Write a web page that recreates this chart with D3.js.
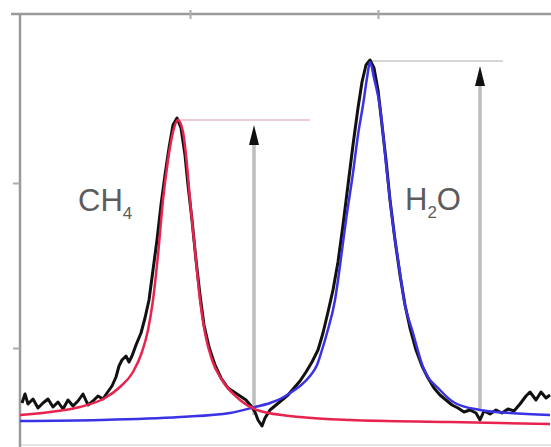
<!DOCTYPE html>
<html>
<head>
<meta charset="utf-8">
<script src="https://cdn.jsdelivr.net/npm/d3@7"></script>
<style>
  body { margin: 0; background: #fff; }
  svg { display: block; }
</style>
</head>
<body>
<svg id="chart"></svg>
<script>
const width = 551;
const height = 447;

const measured = [
  [2,42],[5,51],[8,41],[13,46],[18,37],[23,42],[28,46],[33,38],[38,43],[43,36],[48,45],[53,39],
  [58,44],[63,51],[68,40],[73,44],[78,49],[83,46],[87,52],[92,59],[96,68],[99,79],[102,85],[106,89],
  [109,83],[112,89],[116,100],[121,112],[125,127],[129,145],[133,175],[137,205],[141,240],[145,270],
  [149,297],[153,320],[157,327],[161,317],[165,290],[168,260],[172,225],[176,185],[180,150],[184,120],
  [189,98],[195,80],[201,67],[208,57],[214,53],[220,49],[226,45],[231,39],[235,33],[238,25],[242,19],
  [245,27],[250,35],[256,40],[262,45],[268,50],[274,57],[280,64],[286,73],[292,83],[298,95],[303,112],
  [308,133],[313,155],[318,183],[323,220],[328,260],[333,300],[338,337],[342,363],[346,380],[350,385],
  [354,377],[358,355],[362,320],[366,285],[370,245],[375,205],[380,170],[385,140],[390,117],[396,95],
  [402,79],[408,67],[414,57],[420,50],[426,45],[432,40],[438,37],[444,33],[450,35],[456,32],[460,25],
  [464,34],[470,31],[476,35],[482,32],[488,36],[494,34],[500,41],[506,49],[510,53],[516,45],[521,53],
  [526,47],[530,50]
];

// CH4 fit
const fitCH4 = [
  [0,30],[30,33],[60,38],[85,47],[100,58],[113,73],[122,93],[128,115],[133,145],[138,190],[143,245],
  [148,285],[153,313],[158,325],[163,313],[167,280],[170,245],[175,195],[180,145],[185,112],[192,85],
  [202,65],[220,45],[240,34],[280,28],[330,25],[430,23],[530,21]
];

// H2O fit
const fitH2O = [
  [0,24],[80,25],[160,28],[210,32],[235,38],[250,42],[260,46],[270,52],[280,59],[290,69],[297,80],
  [302,95],[307,112],[315,145],[319,172],[326,225],[333,272],[338,310],[343,340],[347,367],[350,383],
  [354,367],[360,338],[367,272],[373,220],[380,172],[384,145],[393,112],[403,78],[420,55],[435,42],
  [460,35],[490,32],[530,30]
];

const xTicks = [170, 358];
const yTicks = [97, 262];

// peak annotations: label, peak height, guide line span, arrow position, label position
const peakLabels = ['CH', 'H'];
const peakSubs = ['4', '2'];
const peakTails = ['', 'O'];
const peakHeights = [325, 384];
const guideFrom = [160, 352];
const guideTo = [290, 483];
const arrowX = [234, 460];
const arrowBase = [30, 35];
const arrowTop = [320, 379];
const labelX = [58, 385];
const labelY = [234, 235];

const svg = d3.select('#chart').attr('width', width).attr('height', height);

const xScale = d3.scaleLinear().domain([0, 530]).range([20, 550]);
const yScale = d3.scaleLinear().domain([0, 430]).range([445, 15]);

// frame
svg.append('line').attr('x1', 20).attr('x2', 551).attr('y1', 445).attr('y2', 445)
  .attr('stroke', '#ddd').attr('stroke-width', 1.5);

const yAxis = d3.axisLeft(yScale).tickValues(yTicks).tickFormat('').tickSize(7).tickSizeOuter(0);
svg.append('g').attr('transform', 'translate(20,0)').call(yAxis)
  .call(g => g.select('.domain').attr('stroke', '#9a9a9a').attr('stroke-width', 2.5).attr('d', 'M0,14V447'))
  .call(g => g.selectAll('.tick line').attr('stroke', '#aaa').attr('stroke-width', 2));

const xAxis = d3.axisTop(xScale).tickValues(xTicks).tickFormat('').tickSize(5).tickSizeOuter(0);
svg.append('g').attr('transform', 'translate(0,14)').call(xAxis)
  .call(g => g.select('.domain').attr('stroke', '#9a9a9a').attr('stroke-width', 2.5).attr('d', 'M11,0H551'))
  .call(g => g.selectAll('.tick line').attr('stroke', '#aaa').attr('stroke-width', 2).attr('y2', 5).attr('y1', -4));

// guide lines at peak height
peakHeights.forEach((h, i) => {
  svg.append('line')
    .attr('x1', xScale(guideFrom[i])).attr('x2', xScale(guideTo[i]))
    .attr('y1', yScale(h)).attr('y2', yScale(h))
    .attr('stroke', i === 0 ? '#e4bcc6' : '#c8c8cc').attr('stroke-width', 1.5);
});

// arrows
arrowX.forEach((ax, i) => {
  const x = xScale(ax);
  const tip = yScale(arrowTop[i]);
  svg.append('line')
    .attr('x1', x).attr('x2', x)
    .attr('y1', yScale(arrowBase[i])).attr('y2', tip + 12)
    .attr('stroke', '#bdbdbd').attr('stroke-width', 3.5);
  svg.append('path')
    .attr('d', `M${x},${tip}L${x - 5},${tip + 20}L${x + 5},${tip + 20}Z`)
    .attr('fill', '#111');
});

// measured data
const line = d3.line().x(d => xScale(d[0])).y(d => yScale(d[1]));
const smooth = d3.line().x(d => xScale(d[0])).y(d => yScale(d[1])).curve(d3.curveMonotoneX);

svg.append('path').datum(measured).attr('d', line)
  .attr('fill', 'none').attr('stroke', '#111').attr('stroke-width', 3).attr('stroke-linejoin', 'round');

svg.append('path').datum(fitH2O).attr('d', smooth)
  .attr('fill', 'none').attr('stroke', '#3a32e6').attr('stroke-width', 2.5);
svg.append('path').datum(fitCH4).attr('d', smooth)
  .attr('fill', 'none').attr('stroke', '#e8234e').attr('stroke-width', 2.5);

// labels
peakLabels.forEach((t, i) => {
  const txt = svg.append('text')
    .attr('x', xScale(labelX[i])).attr('y', yScale(labelY[i]))
    .attr('font-family', 'Liberation Sans, Arial, sans-serif')
    .attr('font-size', 31).attr('fill', '#5c5c5c');
  txt.append('tspan').text(t);
  txt.append('tspan').text(peakSubs[i]).attr('font-size', 17).attr('dy', 8);
  if (peakTails[i]) txt.append('tspan').text(peakTails[i]).attr('dy', -8);
});
</script>
</body>
</html>
